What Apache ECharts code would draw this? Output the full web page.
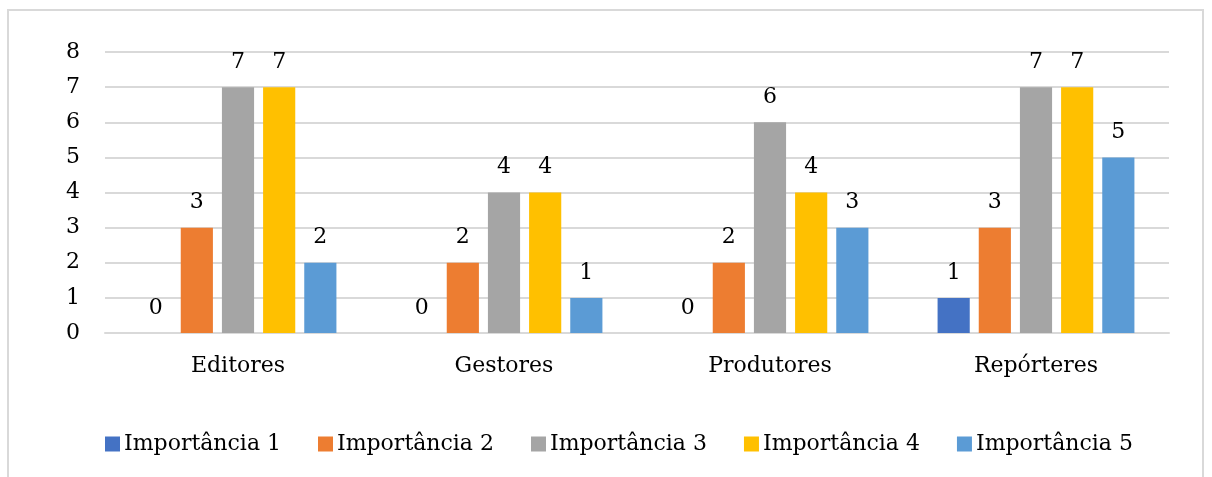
<!DOCTYPE html>
<html><head><meta charset="utf-8">
<script src="https://cdn.jsdelivr.net/npm/echarts@6/dist/echarts.min.js"></script>
<style>html,body{margin:0;padding:0;background:#fff}#frame{position:absolute;left:7px;top:9px;width:1197px;height:470px;border:2px solid #d9d9d9;box-sizing:border-box}#c{position:absolute;left:0;top:0;width:1212px;height:477px}</style>
</head><body><div id="frame"></div><div id="c"></div>
<script>
const categories = ['Editores','Gestores','Produtores','Repórteres'];
const seriesNames = ['Importância 1','Importância 2','Importância 3','Importância 4','Importância 5'];
const imp1 = [0,0,0,1];
const imp2 = [3,2,2,3];
const imp3 = [7,4,6,7];
const imp4 = [7,4,4,7];
const imp5 = [2,1,3,5];
const colors = ['#4472C4','#ED7D31','#A5A5A5','#FFC000','#5B9BD5'];
const values = [imp1,imp2,imp3,imp4,imp5];
const font = 'DejaVu Serif';
const fs = 22;
const chart = echarts.init(document.getElementById('c'));
chart.setOption({
  animation:false,
  color:colors,
  textStyle:{fontFamily:font},
  grid:{left:105,right:43,top:52,bottom:144,containLabel:false},
  legend:{top:428,left:100,itemWidth:15,itemHeight:15,itemGap:37,icon:'rect',
    textStyle:{fontFamily:font,fontSize:fs,color:'#000',padding:[0,0,0,-1]}},
  xAxis:{type:'category',data:categories,
    axisLine:{lineStyle:{color:'#d9d9d9',width:2}},axisTick:{show:false},
    axisLabel:{fontFamily:font,fontSize:fs,color:'#000',margin:22}},
  yAxis:{type:'value',min:0,max:8,interval:1,
    axisLine:{show:false},axisTick:{show:false},
    splitLine:{lineStyle:{color:'#d9d9d9',width:2}},
    axisLabel:{fontFamily:font,fontSize:fs,color:'#000',margin:25}},
  series:values.map((d,i)=>({name:seriesNames[i],type:'bar',data:d,
    barGap:'28%',barCategoryGap:'26%',
    label:{show:true,position:'top',distance:14,fontFamily:font,fontSize:fs,color:'#000'}}))
});
</script></body></html>
